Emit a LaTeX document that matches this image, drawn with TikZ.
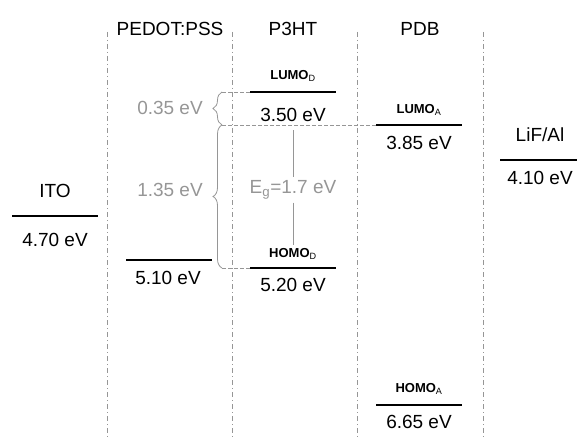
\documentclass[tikz,border=0pt]{standalone}
\usepackage{fontspec}
\setmainfont{Liberation Sans}
\usetikzlibrary{decorations.pathreplacing}
\definecolor{lblgray}{RGB}{150,150,150}

\begin{document}
\begin{tikzpicture}[x=1pt,y=-1pt,
    level/.style={line width=2.5pt},
    sep/.style={lblgray, line width=0.6pt, dash pattern=on 5pt off 3pt on 1pt off 3pt},
    guide/.style={lblgray, line width=0.8pt, dash pattern=on 4pt off 2pt},
    brc/.style={lblgray, line width=0.8pt, decorate, decoration={brace, amplitude=9pt}},
    val/.style={font=\fontsize{19}{21}\selectfont},
    gval/.style={val, text=lblgray},
    orb/.style={font=\fontsize{13}{15}\selectfont\bfseries}]
            \useasboundingbox (0,0) rectangle (577,438);

            % separators between the layers
            \foreach \x in {107,232,357,483}{
                \draw[sep] (\x,32) -- (\x,438);
            }

            \node[val] (hPED) at (170,29) {PEDOT:PSS};
            \node[val] (hP3HT) at (293,29) {P3HT};
            \node[val] (hPDB) at (420,29) {PDB};

            \coordinate (itoL) at (12,216);
            \coordinate (itoR) at (98,216);
            \coordinate (pedL) at (126,260);
            \coordinate (pedR) at (212,260);
            \coordinate (lumoDL) at (250,92);
            \coordinate (lumoDR) at (336,92);
            \coordinate (homoDL) at (250,268);
            \coordinate (homoDR) at (336,268);
            \coordinate (lumoAL) at (376,125);
            \coordinate (lumoAR) at (462,125);
            \coordinate (homoAL) at (376,405);
            \coordinate (homoAR) at (462,405);
            \coordinate (lifL) at (500,160);
            \coordinate (lifR) at (577,160);

            \foreach \p in {ito,ped,lumoD,homoD,lumoA,homoA,lif}{
                \draw[level] (\p L) -- (\p R);
            }

            \node[val] (itoName) at (55,191) {ITO};
            \node[val] (itoVal) at (55,240) {4.70 eV};
            \node[val] (pedVal) at (168,278) {5.10 eV};
            \node[orb] (lumoDName) at (293,76) {LUMO\textsubscript{\mdseries D}};
            \node[val] (lumoDVal) at (293,115) {3.50 eV};
            \node[orb] (homoDName) at (293,254) {HOMO\textsubscript{\mdseries D}};
            \node[val] (homoDVal) at (293,285) {5.20 eV};
            \node[orb] (lumoAName) at (419,110) {LUMO\textsubscript{\mdseries A}};
            \node[val] (lumoAVal) at (419,143) {3.85 eV};
            \node[orb] (homoAName) at (419,389) {HOMO\textsubscript{\mdseries A}};
            \node[val] (homoAVal) at (419,422) {6.65 eV};
            \node[val] (lifName) at (540,135) {LiF/Al};
            \node[val] (lifVal) at (540,178) {4.10 eV};

            % offsets and gap
            \coordinate (b1) at (222,92);
            \coordinate (b2) at (222,125);
            \coordinate (b3) at (222,268);
            \draw[guide] (b1) -- (lumoDL);
            \draw[guide] (b2) -- (lumoAL);
            \draw[guide] (b3) -- (homoDL);
            \draw[brc] (b2) -- (b1);
            \draw[brc] (b3) -- (b2);
            \node[gval] (off1) at (170,108) {0.35 eV};
            \node[gval] (off2) at (170,190) {1.35 eV};

            \node[gval] (eg) at (293,190) {E\textsubscript{g}=1.7 eV};
            \draw[lblgray, line width=0.8pt] ([yshift=-5pt]lumoDVal.south) -- (eg);
            \draw[lblgray, line width=0.8pt] (eg) -- (homoDName.north);
        \end{tikzpicture}
\end{document}
